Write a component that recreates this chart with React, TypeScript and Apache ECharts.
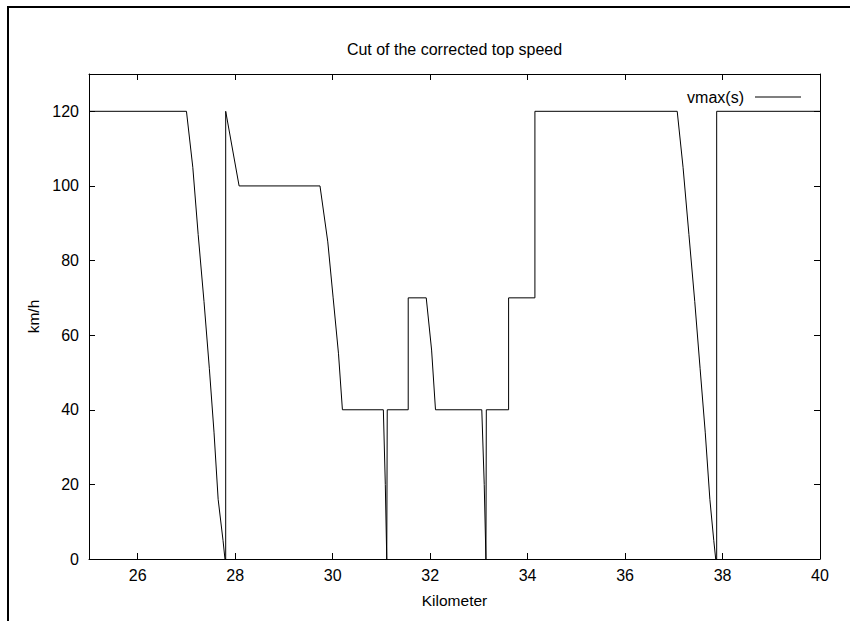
import React, { useEffect, useRef } from "react";
import * as echarts from "echarts";

const kmValues = [
  25, 27.0, 27.13, 27.24, 27.36, 27.47, 27.565, 27.65, 27.75, 27.79, 27.805, 27.805, 28.08,
  29.74, 29.9, 30.01, 30.12, 30.2, 31.04, 31.08, 31.11, 31.12, 31.12,
  31.55, 31.55, 31.92, 32.03, 32.11, 33.06, 33.11, 33.145, 33.153, 33.153,
  33.61, 33.61, 34.15, 34.15, 37.07, 37.19, 37.31, 37.43, 37.54, 37.645, 37.74, 37.82, 37.86,
  37.88, 37.88, 40,
];
const speedValues = [
  120, 120, 105, 87, 69, 51, 34, 16, 5, 0, 0, 120, 100,
  100, 85, 70, 55, 40, 40, 20, 0, 0, 40,
  40, 70, 70, 56, 40, 40, 20, 0, 0, 40,
  40, 70, 70, 120, 120, 105, 87, 69, 51, 34, 16, 5, 0,
  0, 120, 120,
];
const xTicks = [26, 28, 30, 32, 34, 36, 38, 40];
const yTicks = [0, 20, 40, 60, 80, 100, 120];

const FONT = "'Liberation Sans', Arial, Helvetica, sans-serif";

export default function App() {
  const ref = useRef<HTMLDivElement>(null);
  useEffect(() => {
    if (!ref.current) return;
    const chart = echarts.init(ref.current, null, { renderer: "svg" });
    const data = kmValues.map((k, i) => [k, speedValues[i]]);
    const tickStyle = { show: true, inside: true, length: 6, lineStyle: { color: "#000", width: 1 } };
    const lineStyle = { show: true, onZero: false, lineStyle: { color: "#000", width: 1 } };
    chart.setOption({
      animation: false,
      textStyle: { fontFamily: FONT },
      grid: { left: 89, right: 30, top: 74, bottom: 62, containLabel: false },
      legend: {
        data: ["vmax(s)"],
        right: 49,
        top: 89,
        align: "right",
        padding: 0,
        itemWidth: 46,
        itemHeight: 1,
        icon: "rect",
        itemStyle: { color: "#000", borderWidth: 0 },
        textStyle: { fontSize: 16, color: "#000", fontFamily: FONT, padding: [0, 6, 0, 0] },
      },
      xAxis: [
        {
          type: "value",
          min: 25,
          max: 40,
          position: "bottom",
          name: "Kilometer",
          nameLocation: "middle",
          nameGap: 33,
          nameTextStyle: { fontSize: 15.5, color: "#000", fontFamily: FONT },
          axisLine: lineStyle,
          axisTick: { ...tickStyle, customValues: xTicks },
          axisLabel: { customValues: xTicks, fontSize: 16, color: "#000", margin: 8, fontFamily: FONT },
          splitLine: { show: false },
        },
        {
          type: "value",
          min: 25,
          max: 40,
          position: "top",
          axisLine: lineStyle,
          axisTick: { ...tickStyle, customValues: xTicks },
          axisLabel: { show: false },
          splitLine: { show: false },
        },
      ],
      yAxis: [
        {
          type: "value",
          min: 0,
          max: 130,
          position: "left",
          name: "km/h",
          nameLocation: "middle",
          nameGap: 47,
          nameRotate: 90,
          nameTextStyle: { fontSize: 15.5, color: "#000", fontFamily: FONT },
          axisLine: lineStyle,
          axisTick: { ...tickStyle, customValues: yTicks },
          axisLabel: { customValues: yTicks, fontSize: 16, color: "#000", margin: 10, fontFamily: FONT },
          splitLine: { show: false },
        },
        {
          type: "value",
          min: 0,
          max: 130,
          position: "right",
          axisLine: lineStyle,
          axisTick: { ...tickStyle, customValues: yTicks },
          axisLabel: { show: false },
          splitLine: { show: false },
        },
      ],
      graphic: [
        {
          type: "text",
          x: 454.5,
          y: 49.4,
          style: {
            text: "Cut of the corrected top speed",
            fontSize: 16,
            fontFamily: FONT,
            fill: "#000",
            align: "center",
            verticalAlign: "middle",
          },
        },
        { type: "line", shape: { x1: 7, y1: 7, x2: 850, y2: 7 }, style: { stroke: "#000", lineWidth: 2 } },
        { type: "line", shape: { x1: 8, y1: 6, x2: 8, y2: 621 }, style: { stroke: "#000", lineWidth: 2 } },
      ],
      series: [
        {
          name: "vmax(s)",
          type: "line",
          xAxisIndex: 0,
          yAxisIndex: 0,
          data,
          showSymbol: false,
          symbol: "none",
          lineStyle: { color: "#000", width: 1 },
          itemStyle: { color: "#000" },
        },
      ],
    });
    return () => chart.dispose();
  }, []);
  return (
    <div
      ref={ref}
      style={{ position: "fixed", left: 0, top: 0, width: 850, height: 621, background: "#fff" }}
    />
  );
}
